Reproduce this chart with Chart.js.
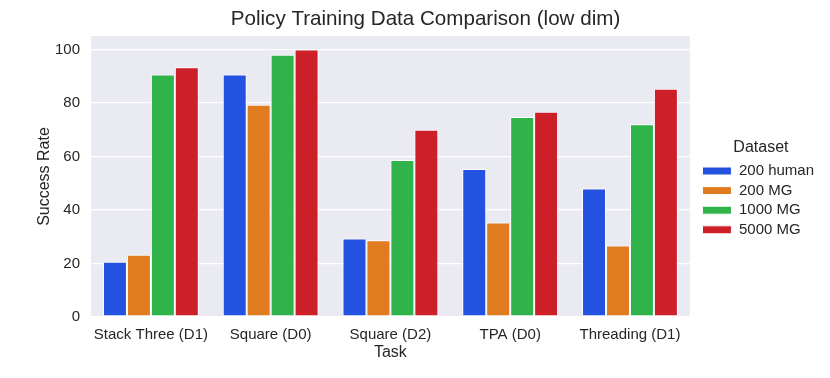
<!DOCTYPE html>
<html>
<head>
<meta charset="utf-8">
<script src="https://cdn.jsdelivr.net/npm/chart.js@4/dist/chart.umd.min.js"></script>
<style>
  html, body { margin: 0; padding: 0; background: #fff; }
  #wrap { width: 830px; height: 378px; }
</style>
</head>
<body>
<div id="wrap"><canvas id="chart" width="830" height="378"></canvas></div>
<script>
// categories on the x axis
const tasks = ["Stack Three (D1)", "Square (D0)", "Square (D2)", "TPA (D0)", "Threading (D1)"];
// success rate per dataset size
const human200 = [20.6, 90.6, 29.3, 55.3, 48.0];
const mg200 = [23.3, 79.3, 28.7, 35.3, 26.7];
const mg1000 = [90.6, 98.0, 58.7, 74.7, 72.0];
const mg5000 = [93.3, 100.0, 70.0, 76.7, 85.3];
const seriesNames = ["200 human", "200 MG", "1000 MG", "5000 MG"];
const yTicks = [0, 20, 40, 60, 80, 100];

const colors = ["#2351e0", "#e07b20", "#2fb34a", "#cc1f27"];
const textColor = "#262626";
const fontFamily = "'Liberation Sans', Arial, sans-serif";

// gray seaborn-like background behind the plot
const bgPlugin = {
  id: "plotBg",
  beforeDraw(chart) {
    const { ctx, chartArea: a } = chart;
    ctx.save();
    ctx.fillStyle = "#eaeaf2";
    ctx.fillRect(a.left, a.top, a.right - a.left, a.bottom - a.top);
    ctx.restore();
  },
};

// push the legend a bit away from the plot, like matplotlib's borderaxespad
const legendShift = {
  id: "legendShift",
  afterLayout(chart) {
    chart.legend.left += 8;
    chart.legend.right += 8;
    chart.legend.top -= 2;
    chart.legend.bottom -= 2;
  },
};

const values = [human200, mg200, mg1000, mg5000];

new Chart(document.getElementById("chart"), {
  type: "bar",
  plugins: [bgPlugin, legendShift],
  data: {
    labels: tasks,
    datasets: seriesNames.map((name, i) => ({
      label: name,
      data: values[i],
      backgroundColor: colors[i],
      borderColor: "#ffffff",
      borderWidth: 1,
      borderSkipped: false,
      categoryPercentage: 0.8,
      barPercentage: 1.0,
    })),
  },
  options: {
    responsive: false,
    animation: false,
    layout: { padding: { left: 35, right: 14, top: 0, bottom: 15.4 } },
    plugins: {
      tooltip: { enabled: false },
      title: {
        display: true,
        text: "Policy Training Data Comparison (low dim)",
        color: textColor,
        font: { family: fontFamily, size: 20.6, weight: "normal" },
        padding: { top: 7, bottom: 4.3 },
      },
      legend: {
        position: "right",
        title: {
          display: true,
          text: "Dataset",
          color: textColor,
          font: { family: fontFamily, size: 16 },
          padding: { top: 23, bottom: 0 },
        },
        labels: {
          color: textColor,
          font: { family: fontFamily, size: 15 },
          boxWidth: 29,
          boxHeight: 8,
          padding: 4.6,
        },
      },
    },
    scales: {
      x: {
        grid: { display: false, drawTicks: false },
        border: { display: false },
        ticks: {
          color: textColor,
          font: { family: fontFamily, size: 15 },
          padding: 8.5,
          maxRotation: 0,
          minRotation: 0,
          autoSkip: false,
        },
        title: {
          display: true,
          text: "Task",
          color: textColor,
          font: { family: fontFamily, size: 16 },
          padding: { top: 0, bottom: 0 },
        },
        afterFit(scale) { scale.height = 45.6; },
      },
      y: {
        min: 0,
        max: 105,
        afterBuildTicks(scale) { scale.ticks = yTicks.map(v => ({ value: v })); },
        grid: { color: "#ffffff", lineWidth: 1.3, drawTicks: false },
        border: { display: false },
        ticks: { color: textColor, font: { family: fontFamily, size: 15 }, padding: 11 },
        title: {
          display: true,
          text: "Success Rate",
          color: textColor,
          font: { family: fontFamily, size: 16 },
          padding: { top: 0, bottom: 0 },
        },
        afterFit(scale) { scale.width = 56; },
      },
    },
  },
});
</script>
</body>
</html>
